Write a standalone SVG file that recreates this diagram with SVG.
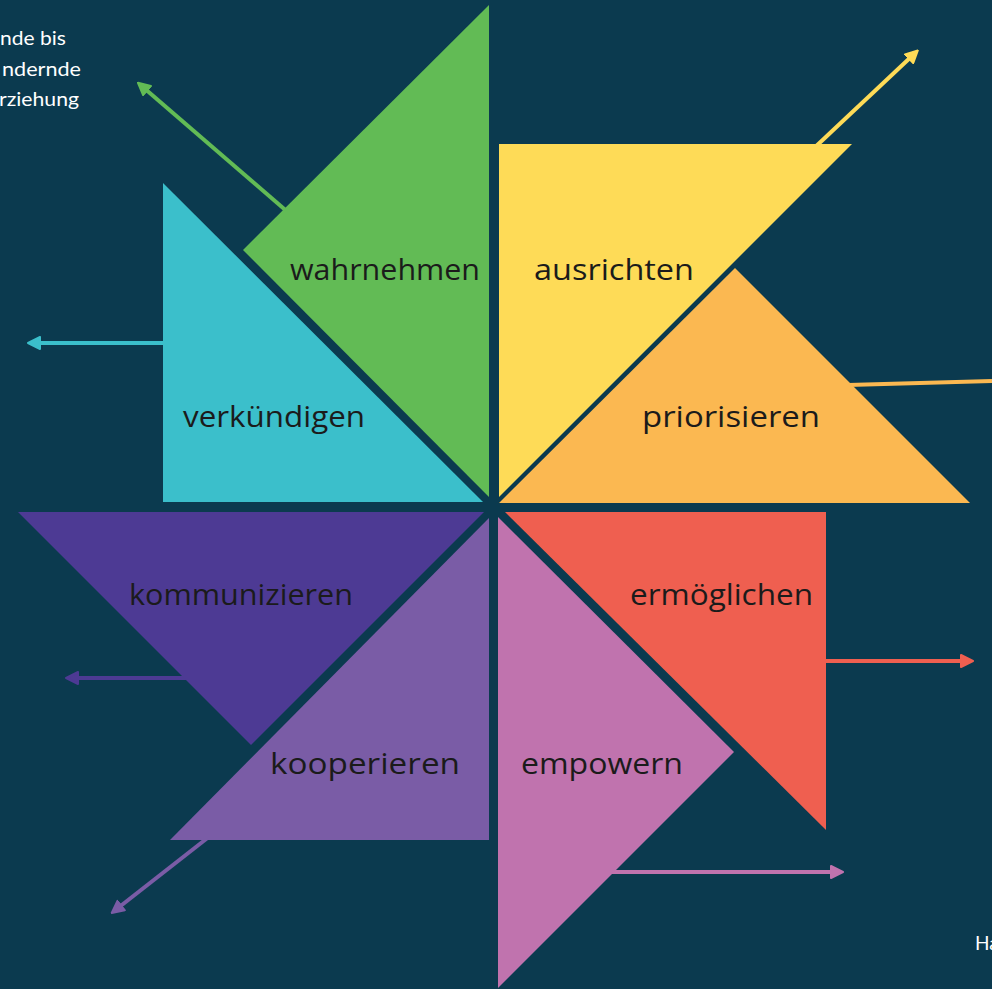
<svg xmlns="http://www.w3.org/2000/svg" width="992" height="989" viewBox="0 0 992 989">
<style>
.lbl{font-family:"Open Sans","Liberation Sans",sans-serif;font-size:29px;fill:#1b1b1b;}
.note{font-family:Lato,"Liberation Sans",sans-serif;font-size:19px;fill:#ffffff;}
.con{fill:none;stroke-width:4;}
</style>
<defs>
<marker id="mGreen" markerUnits="userSpaceOnUse" viewBox="0 0 14 14" markerWidth="14" markerHeight="14" refX="5" refY="7" orient="auto"><path d="M1,1 L13,7 L1,13 z" fill="#62bb55" stroke="#62bb55" stroke-width="2" stroke-linejoin="round"/></marker>
<marker id="mYellow" markerUnits="userSpaceOnUse" viewBox="0 0 14 14" markerWidth="14" markerHeight="14" refX="5" refY="7" orient="auto"><path d="M1,1 L13,7 L1,13 z" fill="#fedb57" stroke="#fedb57" stroke-width="2" stroke-linejoin="round"/></marker>
<marker id="mCyan" markerUnits="userSpaceOnUse" viewBox="0 0 14 14" markerWidth="14" markerHeight="14" refX="5" refY="7" orient="auto"><path d="M1,1 L13,7 L1,13 z" fill="#3bbfcb" stroke="#3bbfcb" stroke-width="2" stroke-linejoin="round"/></marker>
<marker id="mRed" markerUnits="userSpaceOnUse" viewBox="0 0 14 14" markerWidth="14" markerHeight="14" refX="5" refY="7" orient="auto"><path d="M1,1 L13,7 L1,13 z" fill="#ef5f50" stroke="#ef5f50" stroke-width="2" stroke-linejoin="round"/></marker>
<marker id="mPink" markerUnits="userSpaceOnUse" viewBox="0 0 14 14" markerWidth="14" markerHeight="14" refX="5" refY="7" orient="auto"><path d="M1,1 L13,7 L1,13 z" fill="#c073ae" stroke="#c073ae" stroke-width="2" stroke-linejoin="round"/></marker>
<marker id="mLpurple" markerUnits="userSpaceOnUse" viewBox="0 0 14 14" markerWidth="14" markerHeight="14" refX="5" refY="7" orient="auto"><path d="M1,1 L13,7 L1,13 z" fill="#7a5ca6" stroke="#7a5ca6" stroke-width="2" stroke-linejoin="round"/></marker>
<marker id="mDpurple" markerUnits="userSpaceOnUse" viewBox="0 0 14 14" markerWidth="14" markerHeight="14" refX="5" refY="7" orient="auto"><path d="M1,1 L13,7 L1,13 z" fill="#4d3a94" stroke="#4d3a94" stroke-width="2" stroke-linejoin="round"/></marker>
</defs>
<rect width="992" height="989" fill="#0b3a4f"/>
<g id="connectors">
<line class="con" x1="290" y1="214" x2="144" y2="88" stroke="#62bb55" marker-end="url(#mGreen)"/>
<line class="con" x1="812" y1="150" x2="912" y2="56" stroke="#fedb57" marker-end="url(#mYellow)"/>
<line class="con" x1="168" y1="343" x2="36" y2="343" stroke="#3bbfcb" marker-end="url(#mCyan)"/>
<line class="con" x1="848" y1="385" x2="992" y2="381" stroke="#fbb851"/>
<line class="con" x1="820" y1="661" x2="965" y2="661" stroke="#ef5f50" marker-end="url(#mRed)"/>
<line class="con" x1="610" y1="872" x2="835" y2="872" stroke="#c073ae" marker-end="url(#mPink)"/>
<line class="con" x1="210" y1="836" x2="118" y2="908" stroke="#7a5ca6" marker-end="url(#mLpurple)"/>
<line class="con" x1="190" y1="678" x2="74" y2="678" stroke="#4d3a94" marker-end="url(#mDpurple)"/>
</g>
<g id="wahrnehmen">
<polygon points="489,5 489,497 243,250" fill="#62bb55"/>
<text class="lbl" x="290" y="280" textLength="190" lengthAdjust="spacingAndGlyphs">wahrnehmen</text>
</g>
<g id="ausrichten">
<polygon points="499,144 852,144 499,497" fill="#fedb57"/>
<text class="lbl" x="534" y="280" textLength="160" lengthAdjust="spacingAndGlyphs">ausrichten</text>
</g>
<g id="verkuendigen">
<polygon points="163,183 163,502 483,502" fill="#3bbfcb"/>
<text class="lbl" x="183" y="427" textLength="182" lengthAdjust="spacingAndGlyphs">verkündigen</text>
</g>
<g id="priorisieren">
<polygon points="499,503 970,503 735,268" fill="#fbb851"/>
<text class="lbl" x="642" y="427" textLength="178" lengthAdjust="spacingAndGlyphs">priorisieren</text>
</g>
<g id="kommunizieren">
<polygon points="18,512 484,512 251,745" fill="#4d3a94"/>
<text class="lbl" x="129" y="605" textLength="224" lengthAdjust="spacingAndGlyphs">kommunizieren</text>
</g>
<g id="ermoeglichen">
<polygon points="505,512 826,512 826,830" fill="#ef5f50"/>
<text class="lbl" x="630" y="605" textLength="183" lengthAdjust="spacingAndGlyphs">ermöglichen</text>
</g>
<g id="kooperieren">
<polygon points="489,518 489,840 170,840" fill="#7a5ca6"/>
<text class="lbl" x="270" y="774" textLength="190" lengthAdjust="spacingAndGlyphs">kooperieren</text>
</g>
<g id="empowern">
<polygon points="498,517 498,988 734,752" fill="#c073ae"/>
<text class="lbl" x="521" y="774" textLength="162" lengthAdjust="spacingAndGlyphs">empowern</text>
</g>
<g id="notes">
<text class="note" x="0" y="45" textLength="66" lengthAdjust="spacingAndGlyphs">nde bis</text>
<text class="note" x="2" y="76" textLength="79" lengthAdjust="spacingAndGlyphs">ndernde</text>
<text class="note" x="-1" y="106" textLength="80" lengthAdjust="spacingAndGlyphs">rziehung</text>
<text class="note" x="975" y="950" font-size="19">Ha</text>
</g>
</svg>
